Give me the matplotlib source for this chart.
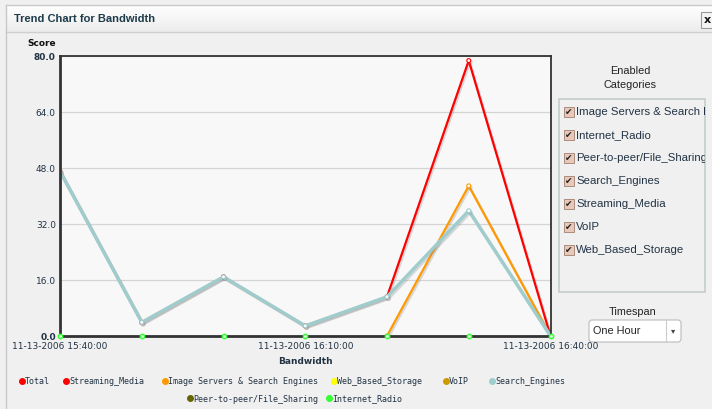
import matplotlib
matplotlib.use("Agg")
import matplotlib.pyplot as plt
import matplotlib.patheffects as pe
from matplotlib import patches
import numpy as np

# data
times = ["15:40:00", "15:50:00", "16:00:00", "16:10:00", "16:20:00", "16:30:00", "16:40:00"]
date = "11-13-2006"
search_engines = [47.0, 3.9, 16.9, 2.9, 11.2, 35.8, 0.0]
image_servers = [0.0, 0.0, 0.0, 0.0, 0.0, 42.9, 0.0]
total = [47.0, 3.9, 16.9, 2.9, 11.2, 78.7, 0.0]
streaming_media = [0.0] * 7
web_storage = [0.0] * 7
voip = [0.0] * 7
p2p = [0.0] * 7
internet_radio = [0.0] * 7

series = [
    ("Total", total, "#ff0000", 1.6),
    ("Streaming_Media", streaming_media, "#ff0000", 1.6),
    ("Image Servers & Search Engines", image_servers, "#ff9900", 1.6),
    ("Web_Based_Storage", web_storage, "#ffff00", 1.6),
    ("VoIP", voip, "#cc9900", 1.6),
    ("Search_Engines", search_engines, "#9fcccc", 2.4),
    ("Peer-to-peer/File_Sharing", p2p, "#666600", 1.6),
    ("Internet_Radio", internet_radio, "#33ff33", 1.6),
]
categories = ["Image Servers & Search Engines", "Internet_Radio", "Peer-to-peer/File_Sharing",
              "Search_Engines", "Streaming_Media", "VoIP", "Web_Based_Storage"]
yticks = [0, 16, 32, 48, 64, 80]

W, H = 712, 409
fig = plt.figure(figsize=(W / 100, H / 100), dpi=100)
fig.patch.set_facecolor("#f0f0f0")


def fx(px):
    return px / W


def fy(py):
    return 1 - py / H


def hide_flat_zero(vals):
    # segments lying on the axis are covered by the x axis in the original
    v = np.asarray(vals, dtype=float)
    keep = np.zeros(len(v), bool)
    for k in range(len(v) - 1):
        if v[k] != 0 or v[k + 1] != 0:
            keep[k] = keep[k + 1] = True
    return np.ma.masked_where(~keep, v)


# window frame and title bar
bg = fig.add_axes([0, 0, 1, 1], zorder=-5)
bg.set_xlim(0, W)
bg.set_ylim(H, 0)
bg.axis("off")
grad = np.linspace(1, 0, 50).reshape(-1, 1)
bg.imshow(grad, cmap=matplotlib.colors.LinearSegmentedColormap.from_list("g", ["#ececec", "#ffffff"]),
          extent=[6, W, 32, 5], aspect="auto", zorder=0)
bg.plot([6, W], [5, 5], color="#c8c8c8", lw=1)
bg.plot([6, W], [32, 32], color="#cfcfcf", lw=1)
bg.plot([6, 6], [5, H], color="#c8c8c8", lw=1)
bg.text(14, 19, "Trend Chart for Bandwidth", fontsize=8, fontweight="bold",
        color="#1d3b4a", va="center", ha="left", family="Liberation Sans")
bg.add_patch(patches.Rectangle((701, 12), 14, 16, fc="#f4f4f4", ec="#999999", lw=0.8))
bg.text(707, 20, "x", fontsize=8, fontweight="bold", color="#111111", va="center", ha="center")

# right panel
bg.text(630, 78, "Enabled\nCategories", fontsize=7.8, color="#222222", ha="center",
        va="center", family="Liberation Sans", linespacing=1.4)
box = patches.Rectangle((559, 99), 146, 193, fc="#f0f0f0", ec="#c4cccc", lw=1.2)
bg.add_patch(box)
for i, cat in enumerate(categories):
    y = 112 + i * 23
    bg.add_patch(patches.Rectangle((564, y - 5), 10, 10, fc="#e8c8b8", ec="#a08070", lw=0.6))
    bg.text(569, y + 0.5, "\u2714", fontsize=6.5, color="#222222", ha="center", va="center",
            family="DejaVu Sans")
    t = bg.text(576, y, cat, fontsize=8.2, color="#223344", ha="left", va="center",
                family="Liberation Sans", clip_on=True)
    t.set_clip_path(box)
bg.text(633, 312, "Timespan", fontsize=7.8, color="#222222", ha="center", va="center",
        family="Liberation Sans")
bg.add_patch(patches.FancyBboxPatch((589, 320), 92, 22, boxstyle="round,pad=0,rounding_size=3",
                                    fc="#ffffff", ec="#bbbbbb", lw=0.8))
bg.plot([666, 666], [320, 342], color="#cccccc", lw=0.8)
bg.text(593, 331, "One Hour", fontsize=7.8, color="#222222", ha="left", va="center",
        family="Liberation Sans")
bg.text(673.5, 331, "\u25be", fontsize=6, color="#444444", ha="center", va="center")

# chart
ax = fig.add_axes([fx(60), fy(336), fx(550.5) - fx(60), fy(56) - fy(336)])
ax.set_facecolor("#f8f8f8")
x = np.arange(len(times))
shadow = [pe.SimpleLineShadow(offset=(1, -1.2), shadow_color="#888888", alpha=0.3), pe.Normal()]
for i, (name, vals, col, lw) in enumerate(series):
    if name == "Internet_Radio":
        ax.plot(x, vals, color=col, lw=0, marker="o", ms=3.2, mfc="#ccffcc", mec=col,
                mew=1, clip_on=False, zorder=12)
        continue
    ax.plot(x, hide_flat_zero(vals), color=col, lw=lw, marker="o", ms=2.8, mfc="white",
            mec=col, mew=0.8, path_effects=shadow, zorder=2 + i * 0.01)

ax.set_xlim(0, len(times) - 1)
ax.set_ylim(0, 80)
ax.set_yticks(yticks)
ax.set_yticklabels(["%.1f" % v for v in yticks], fontsize=6.5, color="#223344")
for lbl in (ax.get_yticklabels()[0], ax.get_yticklabels()[-1]):
    lbl.set_fontweight("bold")
ax.set_xticks([0, 3, 6])
ax.set_xticklabels([date + " " + times[i] for i in (0, 3, 6)], fontsize=6.5, color="#223344")
ax.tick_params(length=0, pad=3)
ax.tick_params(axis="x", pad=4)
ax.grid(axis="y", color="#d4d4d4", lw=0.9)
ax.set_axisbelow(True)
for s in ax.spines.values():
    s.set_color("#333333")
    s.set_linewidth(1.3)
    s.set_zorder(10)
ax.spines["left"].set_linewidth(2.0)
ax.spines["bottom"].set_linewidth(2.0)
ax.set_xlabel("Bandwidth", fontsize=6.5, fontweight="bold", color="#223344", labelpad=5)
fig.text(fx(42), fy(44), "Score", fontsize=6.5, fontweight="bold", color="#111111",
         ha="center", va="center")

# legend
row1 = [22, 66, 165, 334, 446, 492]
row2 = [190, 329]
lx = row1 + row2
ly = [382] * len(row1) + [399] * len(row2)
for (name, vals, col, lw), px, py in zip(series, lx, ly):
    bg.plot(px, py - 1, marker="o", ms=4, color=col, mec=col)
    bg.text(px + 3, py, name, fontsize=6, family="DejaVu Sans Mono", color="#223344",
            ha="left", va="center")

fig.savefig("out.png", dpi=100, facecolor=fig.get_facecolor())
